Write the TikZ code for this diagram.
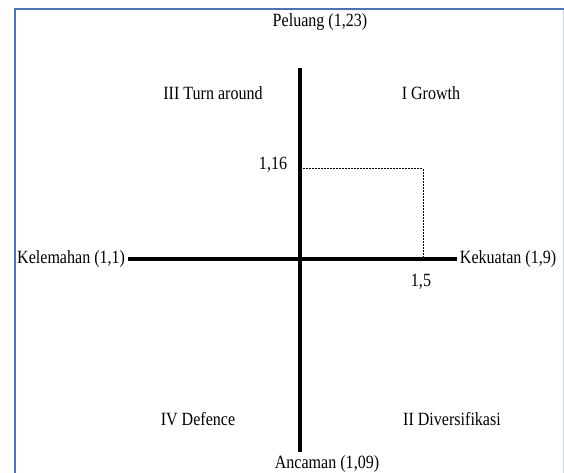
\documentclass[tikz,border=0pt]{standalone}
\usepackage{fontspec}
\setmainfont[FakeStretch=0.86]{Liberation Serif}
\definecolor{frameblue}{RGB}{68,114,196}
\definecolor{framegray}{RGB}{205,212,226}
\begin{document}
\begin{tikzpicture}[x=0.75pt,y=-0.75pt,every node/.style={font=\fontsize{14}{16}\selectfont, inner sep=2pt},axis/.style={line width=2.4pt},guide/.style={line width=0.75pt, dash pattern=on 1.5pt off 0.75pt}]
\useasboundingbox (0,0) rectangle (564,473);
\draw[frameblue,line width=1.5pt] (15,473) |- (564,9);
\draw[framegray,line width=0.75pt] (563,10) -- (563,473);
\node (peluang) at (320,22) {Peluang (1,23)};
\node (kelemahan) [anchor=east] at (128,259) {Kelemahan (1,1)};
\node (kekuatan) [anchor=west] at (457,259) {Kekuatan (1,9)};
\node (ancaman) at (327,464) {Ancaman (1,09)};
\node (growth) at (431,93) {I Growth};
\node (diversifikasi) at (452,419) {II Diversifikasi};
\node (turnaround) at (213,93) {III Turn around};
\node (defence) at (198,419) {IV Defence};
\coordinate (atas) at (300,68);
\coordinate (bawah) at (300,452);
\draw[axis] (atas) -- (bawah);
\draw[axis] (kelemahan) -- (kekuatan);
\coordinate (y116) at (300,169);
\coordinate (x15) at (423,259);
\draw[guide] (y116) -| (x15);
\node (ly) [anchor=east] at (290,165) {1,16};
\node (lx) at (421,282) {1,5};
\end{tikzpicture}
\end{document}
